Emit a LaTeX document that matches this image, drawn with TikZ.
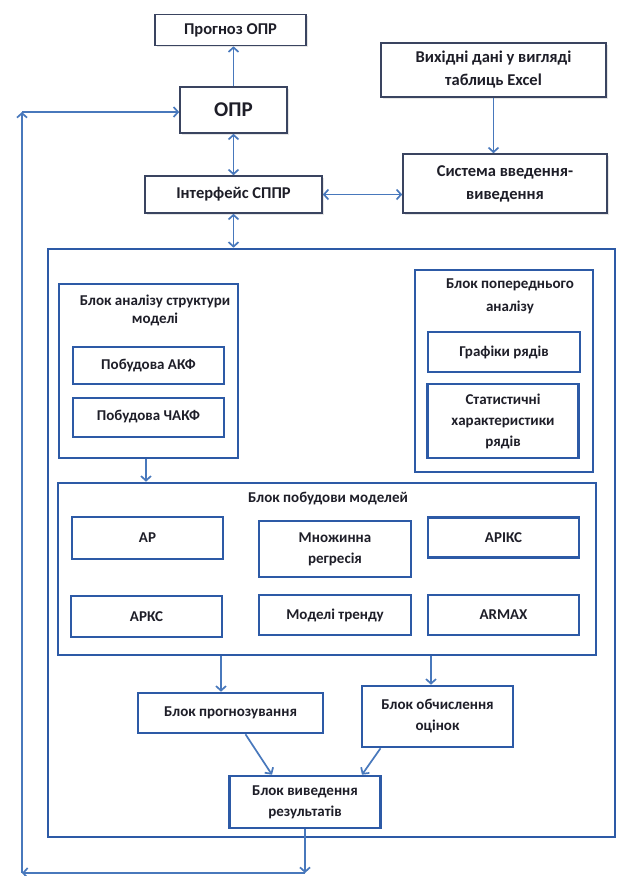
\documentclass[tikz,border=0pt]{standalone}
\usepackage{fontspec}
\setmainfont{Carlito}
\usetikzlibrary{arrows.meta,shadows}

\definecolor{framedark}{RGB}{58,68,96}
\definecolor{blockblue}{RGB}{45,90,166}
\definecolor{arrowblue}{RGB}{72,120,188}
\definecolor{textdark}{RGB}{30,30,40}

\begin{document}
\begin{tikzpicture}[x=1pt, y=-1pt,
    topbox/.style={draw=framedark, line width=1.6pt, fill=white,
        drop shadow={opacity=0.2, shadow xshift=1.5pt, shadow yshift=-1.5pt},
        inner sep=0pt, align=center, text=textdark,
        font=\bfseries\fontsize{16.5}{23}\selectfont},
    blockbox/.style={draw=blockblue, line width=2.6pt, fill=white, inner sep=0pt,
        align=center, text=textdark, font=\bfseries\fontsize{15}{21}\selectfont},
    blocktitle/.style={align=center, text=textdark, font=\bfseries\fontsize{15}{21}\selectfont},
    arrowline/.style={draw=arrowblue, line width=1.7pt, -{Straight Barb[length=4.5pt,width=10pt]}},
    twoway/.style={arrowline, {Straight Barb[length=4.5pt,width=10pt]}-{Straight Barb[length=4.5pt,width=10pt]}},
]
    \useasboundingbox (0,0) rectangle (619,876);

    % upper part
    \node[topbox, minimum width=151pt, minimum height=31pt] (prognoz) at (230.5,30) {Прогноз ОПР};
    \node[topbox, minimum width=107pt, minimum height=46pt, font=\bfseries\fontsize{21}{24}\selectfont] (opr) at (233.5,110) {ОПР};
    \node[topbox, minimum width=225pt, minimum height=54pt] (vykhidni) at (493.5,70) {Вихідні дані у вигляді\\таблиць Excel};
    \node[topbox, minimum width=204pt, minimum height=59pt] (systema) at (505,183.5) {Система введення-\\виведення};
    \node[topbox, minimum width=177pt, minimum height=37pt] (interfeis) at (233.5,194.5) {Інтерфейс СППР};

    % main frame
    \node[blockbox, minimum width=567pt, minimum height=588pt] (frame) at (331.5,543) {};

    \node[blockbox, minimum width=179pt, minimum height=174pt] (analiz) at (148.5,371) {};
    \node[blocktitle, font=\bfseries\fontsize{15}{18}\selectfont] (analiztitle) at (155,310.5) {Блок аналізу структури\\моделі};
    \node[blockbox, minimum width=151pt, minimum height=37pt] (akf) at (148.5,365.5) {\raisebox{-3pt}{Побудова АКФ}};
    \node[blockbox, minimum width=151pt, minimum height=39pt] (chakf) at (148.5,417.5) {\raisebox{4pt}{Побудова ЧАКФ}};

    \node[blockbox, minimum width=178pt, minimum height=202pt] (poperedniy) at (504,371) {};
    \node[blocktitle, font=\bfseries\fontsize{15}{23}\selectfont] (poperedniytitle) at (510,296.5) {Блок попереднього\\аналізу};
    \node[blockbox, minimum width=152pt, minimum height=40pt] (grafiky) at (504,352) {Графіки рядів};
    \node[blockbox, minimum width=151pt, minimum height=74pt] (statyst) at (503,421) {Статистичні\\характеристики\\рядів};

    \node[blockbox, minimum width=538pt, minimum height=172pt] (pobudova) at (327,569) {};
    \node[blocktitle] (pobudovatitle) at (328,499) {Блок побудови моделей};
    \node[blockbox, minimum width=151pt, minimum height=42pt] (ar) at (147.5,538) {АР};
    \node[blockbox, minimum width=152pt, minimum height=56pt] (mnozh) at (335,549) {Множинна\\регресія};
    \node[blockbox, minimum width=151pt, minimum height=40pt] (ariks) at (503.5,537.5) {АРІКС};
    \node[blockbox, minimum width=151pt, minimum height=41pt] (arks) at (146.5,616.5) {АРКС};
    \node[blockbox, minimum width=152pt, minimum height=40pt] (trend) at (335,615) {Моделі тренду};
    \node[blockbox, minimum width=151pt, minimum height=40pt] (armax) at (503.5,615) {ARMAX};

    \node[blockbox, minimum width=185pt, minimum height=40pt] (prognozuv) at (230.5,713) {Блок прогнозування};
    \node[blockbox, minimum width=151pt, minimum height=61pt] (obchysl) at (437.5,716.5) {Блок обчислення\\оцінок};
    \node[blockbox, minimum width=151pt, minimum height=52pt] (vyvedennya) at (305,802) {Блок виведення\\результатів};

    % connectors
    \draw[arrowline] (opr.north) -- (opr.north |- prognoz.south);
    \draw[twoway] (opr.south) -- (opr.south |- interfeis.north);
    \draw[arrowline] (vykhidni.south) -- (vykhidni.south |- systema.north);
    \draw[twoway] (interfeis.east) -- (interfeis.east -| systema.west);
    \draw[twoway] (interfeis.south) -- (interfeis.south |- frame.north);

    \draw[arrowline] ([xshift=-2.5pt]analiz.south) -- ([xshift=-2.5pt]analiz.south |- pobudova.north);
    \draw[arrowline] ([xshift=-9.5pt]prognozuv.north |- pobudova.south) -- ([xshift=-9.5pt]prognozuv.north);
    \draw[arrowline] ([xshift=-6.5pt]obchysl.north |- pobudova.south) -- ([xshift=-6.5pt]obchysl.north);
    \draw[arrowline] ([xshift=15pt]prognozuv.south) -- ([xshift=-33pt]vyvedennya.north);
    \draw[arrowline] ([xshift=-57pt]obchysl.south) -- ([xshift=57pt]vyvedennya.north);

    % feedback to ОПР
    \coordinate (fbbottom) at (305,873);
    \coordinate (fbleft) at (22,873);
    \coordinate (fbtop) at (22,112);
    \draw[arrowline] (vyvedennya.south) -- (vyvedennya.south |- fbbottom);
    \draw[arrowline] (fbbottom) -- (fbleft);
    \draw[arrowline] (fbleft) -- (fbtop);
    \draw[arrowline] (fbtop) -- (fbtop -| opr.west);
\end{tikzpicture}
\end{document}
